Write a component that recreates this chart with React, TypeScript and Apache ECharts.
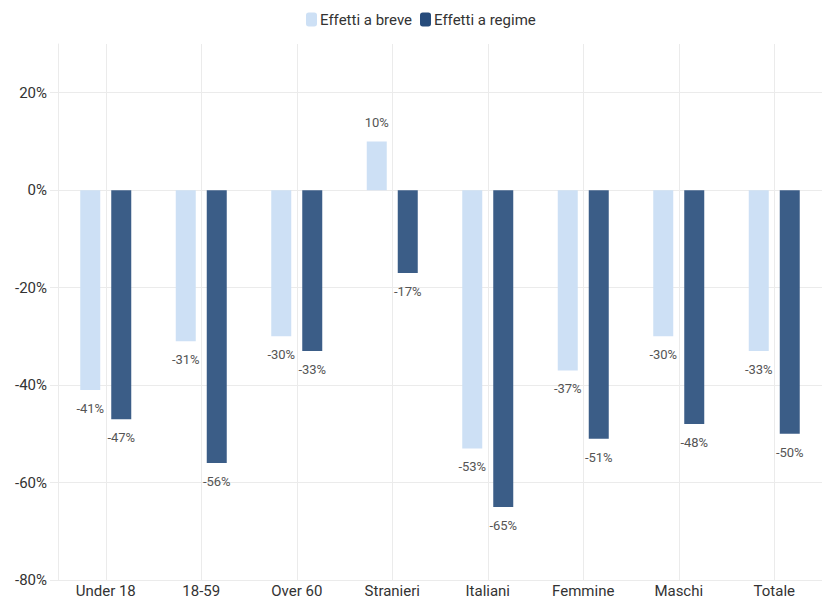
import React, { useEffect, useRef } from "react";
import * as echarts from "echarts";

const categories = ["Under 18", "18-59", "Over 60", "Stranieri", "Italiani", "Femmine", "Maschi", "Totale"];
const seriesNames = ["Effetti a breve", "Effetti a regime"];
const breve = [-41, -31, -30, 10, -53, -37, -30, -33];
const regime = [-47, -56, -33, -17, -65, -51, -48, -50];
const yMin = -80;
const yMax = 30;
const yInterval = 20;

const LIGHT = "#cde0f5";
const DARK = "#3b5d87";
const GRID = "#ebebeb";
const FONT = "Roboto, 'Noto Sans', sans-serif";

function toData(values: number[]) {
  return values.map((v) => ({
    value: v,
    label: { position: v >= 0 ? "top" : "bottom" },
  }));
}

export default function App() {
  const ref = useRef<HTMLDivElement>(null);
  useEffect(() => {
    if (!ref.current) return;
    const chart = echarts.init(ref.current, undefined, { renderer: "svg" });
    const labelStyle = {
      show: true,
      formatter: (p: any) => p.value + "%",
      fontFamily: FONT,
      fontSize: 13,
      color: "#555555",
      distance: 12,
    };
    chart.setOption({
      animation: false,
      textStyle: { fontFamily: FONT },
      legend: {
        top: 7,
        left: 301,
        icon: "roundRect",
        itemWidth: 11,
        itemHeight: 14,
        itemGap: 8,
        textStyle: { fontFamily: FONT, fontSize: 15, color: "#333333", padding: [0, 0, 0, -2] },
        data: [
          { name: seriesNames[0], itemStyle: { color: LIGHT } },
          { name: seriesNames[1], itemStyle: { color: "#264b7b" } },
        ],
      },
      grid: { left: 58, right: -2, top: 44, bottom: 13, containLabel: false },
      xAxis: {
        type: "category",
        data: categories,
        axisLine: { show: false },
        axisTick: { show: false },
        axisLabel: { fontFamily: FONT, fontSize: 15, color: "#333333", margin: 3 },
        splitLine: { show: true, alignWithLabel: true, lineStyle: { color: GRID, width: 1 } },
      },
      yAxis: {
        type: "value",
        min: yMin,
        max: yMax,
        interval: yInterval,
        axisLine: { show: true, lineStyle: { color: GRID } },
        axisTick: { show: true, length: 8, lineStyle: { color: GRID } },
        axisLabel: {
          fontFamily: FONT,
          fontSize: 15,
          color: "#333333",
          margin: 11,
          showMaxLabel: false,
          formatter: (v: number) => (v === yMax ? "" : v + "%"),
        },
        splitLine: { show: true, showMaxLine: false, lineStyle: { color: GRID, width: 1 } },
      },
      series: [
        {
          name: seriesNames[0],
          type: "bar",
          data: toData(breve),
          barWidth: 20,
          barGap: "55%",
          itemStyle: { color: LIGHT },
          label: labelStyle,
        },
        {
          name: seriesNames[1],
          type: "bar",
          data: toData(regime),
          barWidth: 20,
          barGap: "55%",
          itemStyle: { color: DARK },
          label: labelStyle,
        },
      ],
    });
    return () => chart.dispose();
  }, []);
  return (
    <div
      ref={ref}
      style={{ position: "absolute", left: 0, top: 0, width: 822, height: 598, background: "#ffffff" }}
    />
  );
}
